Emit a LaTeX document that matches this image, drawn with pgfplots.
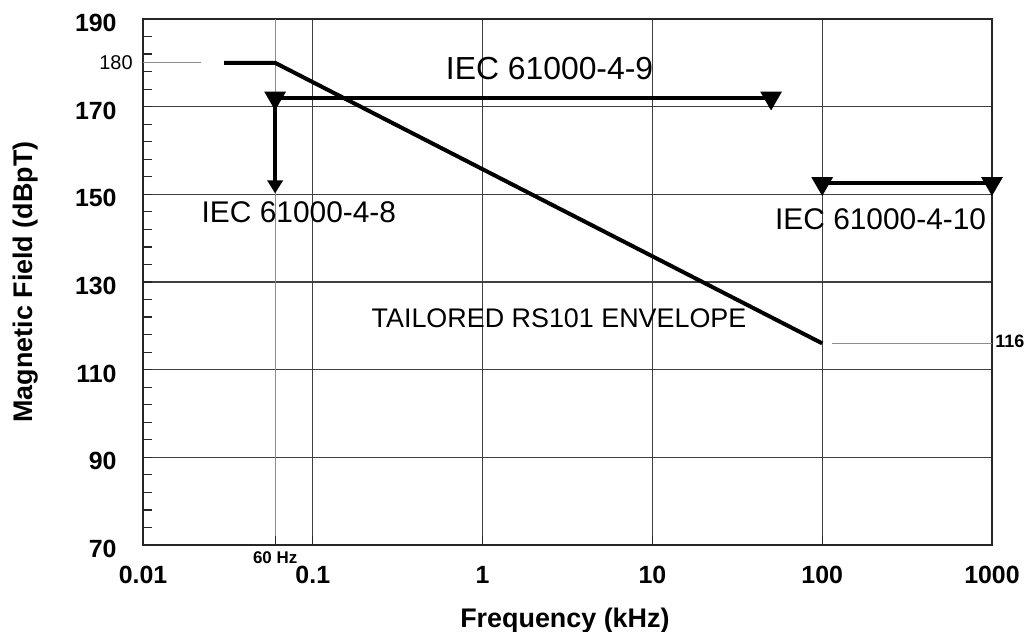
\documentclass[border=0pt]{standalone}
\usepackage{pgfplots}
\pgfplotsset{compat=1.18}
\usepackage{fontspec}
\setmainfont{Liberation Sans}
\usetikzlibrary{arrows.meta}
\begin{document}
\begin{tikzpicture}
\useasboundingbox (-71.5bp,-43.5bp) rectangle (443.5bp,272.5bp);
\begin{axis}[
  at={(0,0)}, anchor=south west,
  scale only axis, width=424.5bp, height=263bp,
  xmode=log, log basis x=10,
  xmin=0.01, xmax=1000, ymin=70, ymax=190,
  clip=false,
  xtick={0.01,0.1,1,10,100,1000},
  xticklabels={0.01,0.1,1,10,100,1000},
  ytick={70,90,110,130,150,170,190},
  minor y tick num=4,
  xminorticks=false,
  grid=major,
  major grid style={black!75, line width=0.6bp},
  axis line style={black!85, line width=0.7bp},
  tick style={black!85, line width=0.6bp},
  tick align=inside, ytick pos=left, xtick pos=bottom,
  major tick length=4.5bp, minor tick length=4.5bp,
  /pgf/number format/assume math mode=true,
  tick label style={font=\bfseries\fontsize{12.5}{15}\selectfont},
  xticklabel style={anchor=base, yshift=-19bp},
  yticklabel style={anchor=east, inner sep=0pt, xshift=-13bp, yshift=-2bp},
  extra x ticks={0.06}, extra x tick labels={},
  extra x tick style={grid=major, major grid style={black!45, line width=0.6bp}},
  xlabel={Frequency (kHz)},
  ylabel={Magnetic Field (dBpT)},
  label style={font=\bfseries\fontsize{13.5}{16}\selectfont},
  xlabel style={at={(axis description cs:0.497,-0.156)}, anchor=base},
  ylabel style={at={(axis description cs:-0.1307,0.5)}, anchor=base},
]
% reference lines
\addplot[black!45, line width=0.6bp] coordinates {(0.01,180) (0.022,180)};
\addplot[black!45, line width=0.6bp] coordinates {(115,116) (1000,116)};
% Tailored RS101 envelope
\addplot[black, line width=2bp] coordinates {(0.03,180) (0.06,180) (100,116)};
% IEC 61000-4-9
\addplot[black, line width=2bp, mark=triangle*, mark size=4.3bp,
  mark options={rotate=180, solid, fill=black}] coordinates {(0.06,172) (50,172)};
% IEC 61000-4-8
\addplot[black, line width=2bp, -{Triangle[width=7.5bp,length=6.5bp]}] coordinates {(0.06,172) (0.06,150.2)};
% IEC 61000-4-10
\addplot[black, line width=2bp, mark=triangle*, mark size=4.3bp,
  mark options={rotate=180, solid, fill=black}] coordinates {(100,152.5) (1000,152.5)};
% labels
\node[font=\fontsize{16}{19}\selectfont] at (axis cs:2.48,178.8) {IEC 61000-4-9};
\node[font=\fontsize{15}{18}\selectfont] at (axis cs:0.0828,145.9) {IEC 61000-4-8};
\node[font=\fontsize{15}{18}\selectfont] at (axis cs:221,144.4) {IEC 61000-4-10};
\node[font=\fontsize{13.5}{16}\selectfont] at (axis cs:2.82,121.8) {TAILORED RS101 ENVELOPE};
\node[font=\fontsize{10}{12}\selectfont, anchor=east, inner sep=0pt, xshift=-5bp] at (axis cs:0.01,180) {180};
\node[font=\bfseries\fontsize{9}{11}\selectfont, anchor=west, inner sep=0pt, xshift=1.5bp, yshift=1bp] at (axis cs:1000,116) {116};
\node[font=\bfseries\fontsize{8.5}{10}\selectfont, anchor=base, yshift=-9bp] at (axis cs:0.06,70) {60 Hz};
\end{axis}
\end{tikzpicture}
\end{document}
